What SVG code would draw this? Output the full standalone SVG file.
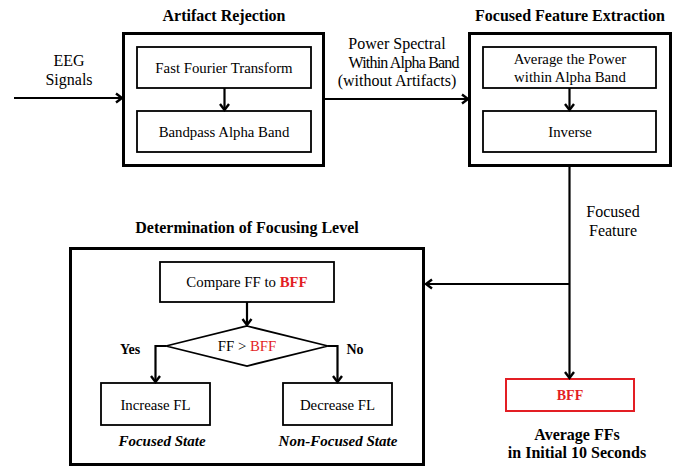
<svg xmlns="http://www.w3.org/2000/svg" width="685" height="468" viewBox="0 0 685 468" font-family="'Liberation Serif', 'Times New Roman', 'DejaVu Serif', serif">
<defs>
<style>
text{font-family:'Liberation Serif','Times New Roman',serif;fill:#000;text-anchor:middle}
.t{font-size:16px;font-weight:bold}
.n{font-size:14.8px}
.m{font-size:16px}
.b{font-size:14px;font-weight:bold}
.bl{font-size:16px;font-weight:bold}
.bi{font-size:15px;font-weight:bold;font-style:italic}
.outer{fill:none;stroke:#000;stroke-width:3}
.inner{fill:#fff;stroke:#000;stroke-width:1.8}
.red{fill:#e31e24}
.ln{fill:none;stroke:#000;stroke-width:2.2}
</style>
<marker id="ah" markerWidth="12" markerHeight="12" refX="9" refY="6" orient="auto" markerUnits="userSpaceOnUse">
<path d="M3,1.5 L9,6 L3,10.5" fill="none" stroke="#000" stroke-width="2.4"/>
</marker>
</defs>
<g id="eeg-label">
<text class="m" x="69" y="66">EEG</text>
<text class="m" x="69" y="85">Signals</text>
</g>
<g id="artifact-rejection">
<text class="t" x="224" y="21">Artifact Rejection</text>
<rect class="outer" x="123.5" y="33.5" width="200" height="132"/>
</g>
<g id="fft">
<rect class="inner" x="137" y="47" width="174" height="41"/>
<text class="n" x="224" y="73">Fast Fourier Transform</text>
</g>
<g id="bandpass">
<rect class="inner" x="137" y="111" width="174" height="41"/>
<text class="n" x="224" y="137">Bandpass Alpha Band</text>
</g>
<g id="power-label">
<text class="m" x="397" y="49">Power Spectral</text>
<text class="m" x="404" y="68" textLength="111" lengthAdjust="spacing">Within Alpha Band</text>
<text class="m" x="397" y="86">(without Artifacts)</text>
</g>
<g id="feature-extraction">
<text class="t" x="570" y="21">Focused Feature Extraction</text>
<rect class="outer" x="469.5" y="33.5" width="201" height="132"/>
</g>
<g id="average">
<rect class="inner" x="483" y="47" width="173" height="41"/>
<text class="n" x="570" y="64">Average the Power</text>
<text class="n" x="570" y="82">within Alpha Band</text>
</g>
<g id="inverse">
<rect class="inner" x="483" y="111" width="173" height="41"/>
<text class="n" x="570" y="137">Inverse</text>
</g>
<g id="focused-feature-label">
<text class="m" x="613" y="217">Focused</text>
<text class="m" x="613" y="236">Feature</text>
</g>
<g id="determination">
<text class="t" x="247" y="233">Determination of Focusing Level</text>
<rect class="outer" x="70.5" y="248.5" width="353" height="216"/>
</g>
<g id="compare">
<rect class="inner" x="160" y="262" width="174" height="40"/>
<text class="n" x="247" y="287">Compare FF to <tspan class="red" font-weight="bold">BFF</tspan></text>
</g>
<g id="decision">
<polygon class="inner" points="247,326 328,346 247,366 166,346"/>
<text class="n" x="247" y="351">FF &gt; <tspan class="red">BFF</tspan></text>
<text class="b" x="130" y="354">Yes</text>
<text class="b" x="355" y="354">No</text>
</g>
<g id="increase">
<rect class="inner" x="101" y="383" width="109" height="42"/>
<text class="n" x="155.5" y="410">Increase FL</text>
<text class="bi" x="162" y="446">Focused State</text>
</g>
<g id="decrease">
<rect class="inner" x="283" y="383" width="109" height="42"/>
<text class="n" x="337.5" y="410">Decrease FL</text>
<text class="bi" x="338" y="446">Non-Focused State</text>
</g>
<g id="bff">
<rect x="506" y="379" width="128" height="32" fill="#fff" stroke="#e31e24" stroke-width="2"/>
<text class="b red" x="570" y="400">BFF</text>
<text class="bl" x="577" y="440">Average FFs</text>
<text class="bl" x="577" y="458">in Initial 10 Seconds</text>
</g>
<g id="connectors">
<line class="ln" x1="14" y1="98" x2="122" y2="98" marker-end="url(#ah)"/>
<line class="ln" x1="325" y1="99" x2="468" y2="99" marker-end="url(#ah)"/>
<line class="ln" x1="224.5" y1="88" x2="224.5" y2="110" marker-end="url(#ah)"/>
<line class="ln" x1="569.5" y1="88" x2="569.5" y2="110" marker-end="url(#ah)"/>
<polyline class="ln" points="569.5,167 569.5,378" marker-end="url(#ah)"/>
<line class="ln" x1="569.5" y1="284" x2="426" y2="284" marker-end="url(#ah)"/>
<line class="ln" x1="247" y1="302" x2="247" y2="325" marker-end="url(#ah)"/>
<polyline class="ln" points="166,346 155.5,346 155.5,382" marker-end="url(#ah)"/>
<polyline class="ln" points="328,346 337.5,346 337.5,382" marker-end="url(#ah)"/>
</g>
</svg>
